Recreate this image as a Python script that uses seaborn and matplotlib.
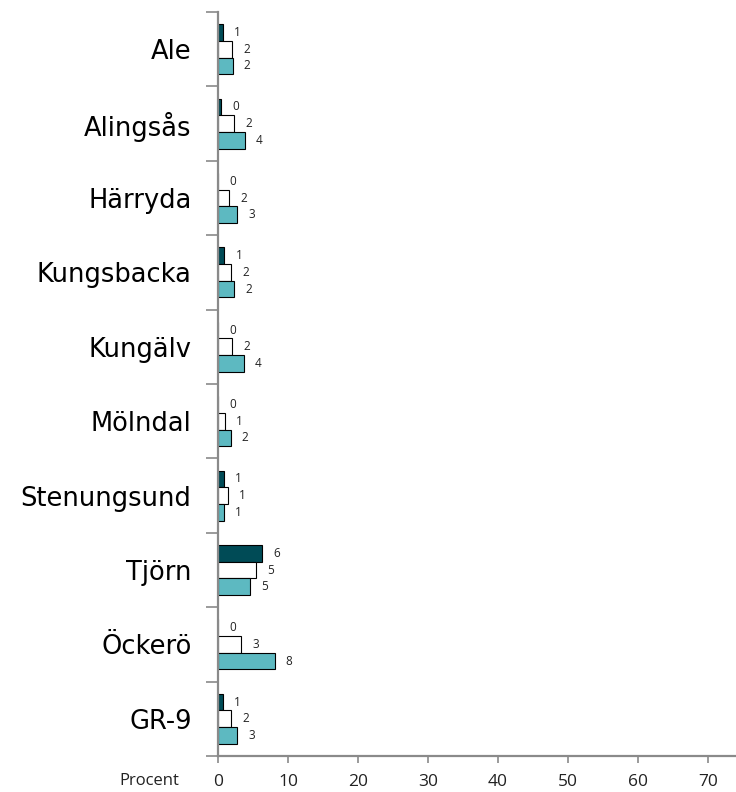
import pandas as pd
import numpy as np
import matplotlib.pyplot as plt
import seaborn as sns

# --- data ---
kommuner = ['Ale', 'Alingsås', 'Härryda', 'Kungsbacka', 'Kungälv',
            'Mölndal', 'Stenungsund', 'Tjörn', 'Öckerö', 'GR-9']
serie_a = [0.7, 0.4, 0.0, 0.9, 0.0, 0.0, 0.8, 6.3, 0.0, 0.7]
serie_b = [2.0, 2.3, 1.6, 1.9, 2.0, 1.0, 1.4, 5.4, 3.3, 1.9]
serie_c = [2.1, 3.8, 2.7, 2.3, 3.7, 1.8, 0.8, 4.6, 8.1, 2.7]
serier = ['A', 'B', 'C']
x_ticks = [0, 10, 20, 30, 40, 50, 60, 70]

df = pd.DataFrame({
    'Kommun': kommuner * 3,
    'Serie': [s for s in serier for _ in kommuner],
    'Procent': serie_a + serie_b + serie_c,
})

farger = ['#004b56', '#ffffff', '#5db9c1']
grey = '#8a8a8a'

sns.set_theme(style='white')
plt.rcParams['font.family'] = ['Open Sans', 'DejaVu Sans']

fig = plt.figure(figsize=(7.36, 7.92), dpi=100)
ax = fig.add_axes([218 / 736, 1 - 756 / 792, 1 - 218 / 736, (756 - 12) / 792])

sns.barplot(data=df, x='Procent', y='Kommun', hue='Serie', orient='h',
            palette=farger, saturation=1, width=0.67, edgecolor='black',
            linewidth=0.8, legend=False, ax=ax)

# värdeetiketter
for cont in ax.containers:
    ax.bar_label(cont, fmt='%.0f', padding=8, fontsize=8.5, color='#222222')

ax.set_xlim(0, 74)
ax.set_ylim(9.5, -0.5)
ax.set_xticks(x_ticks)
ax.set_xlabel('')
ax.set_ylabel('')

# category separators as minor ticks
ax.set_yticks(np.arange(-0.5, len(kommuner), 1.0), minor=True)
ax.tick_params(axis='y', which='major', length=0, pad=19, labelsize=18.5, labelcolor='black')
ax.tick_params(axis='y', which='minor', left=True, length=9, width=1.2, color=grey)
ax.tick_params(axis='x', which='major', bottom=True, length=5, width=1.2, color=grey,
               labelsize=12.5, labelcolor='#222222', pad=8)
for lbl in ax.get_yticklabels():
    lbl.set_family('DejaVu Sans')

for side in ['top', 'right']:
    ax.spines[side].set_visible(False)
for side in ['left', 'bottom']:
    ax.spines[side].set_color(grey)
    ax.spines[side].set_linewidth(1.6)

fig.text(179 / 736, 1 - 781 / 792, 'Procent', ha='right', va='center',
         fontsize=12, color='#222222')

fig.savefig('out.png', dpi=100)
